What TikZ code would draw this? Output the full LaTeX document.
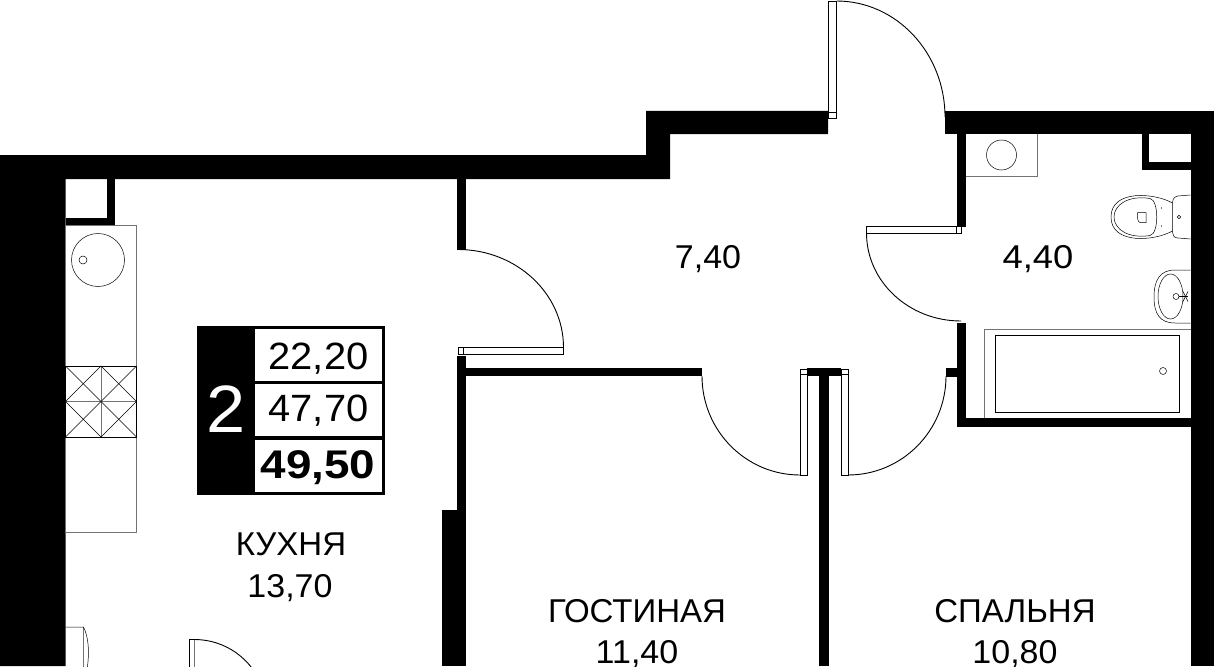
\documentclass[tikz,border=0pt]{standalone}
\usepackage{fontspec}
\setmainfont{Liberation Sans}
\tikzset{
  wall/.style={fill=black},
  leaf/.style={draw=black,fill=white,line width=0.9pt},
  swing/.style={draw=black,line width=0.9pt},
  fixture/.style={draw=black,line width=0.5pt},
  counter/.style={draw=black!55,line width=0.8pt},
  roomlabel/.style={inner sep=0pt,font=\fontsize{33}{36}\selectfont},
  roomarea/.style={roomlabel,transform shape,xscale=1.03},
  arealabel/.style={inner sep=0pt,transform shape,xscale=1.05,font=\fontsize{38}{40}\selectfont}
}
\begin{document}
\begin{tikzpicture}[x=1pt,y=-1pt]
      \useasboundingbox (0,0) rectangle (1214,666);
      \clip (0,0) rectangle (1214,666);
      \fill[white] (0,0) rectangle (1214,666);
      % outer walls
      \fill[wall] (0,155) -- (646,155) -- (646,111) -- (828,111) -- (828,134) -- (670,134) -- (670,179) -- (65.5,179) -- (65.5,666) -- (0,666) -- cycle;
      \fill[wall] (945,111) rectangle (1214,134);
      \fill[wall] (1190.5,111) rectangle (1214,666);
      % inner walls
      \fill[wall] (107,179) rectangle (115,226);
      \fill[wall] (65.5,218) rectangle (115,226);
      \fill[wall] (456.5,179) rectangle (466,250);
      \fill[wall] (456.5,356) rectangle (466,666);
      \fill[wall] (441.5,510) rectangle (466,666);
      \fill[wall] (456.5,368) rectangle (702,376);
      \fill[wall] (819,368) rectangle (829,666);
      \fill[wall] (807,368) rectangle (841,376);
      \fill[wall] (957,134) rectangle (966,226.5);
      \fill[wall] (957,322.5) rectangle (966,427);
      \fill[wall] (946,368) rectangle (957,376.5);
      \fill[wall] (957,418) rectangle (1191,427);
      \fill[wall] (1142,134) rectangle (1149,170);
      \fill[wall] (1142,162) rectangle (1191,170);
      % doors
      \draw[leaf] (828.5,1) rectangle (836.5,118);
      \draw[leaf] (828.5,112) rectangle (836.5,118);
      \draw[swing] (836.5,1) arc[start angle=-90,end angle=0,x radius=108.5,y radius=116];
      \draw[leaf] (866.5,226.5) rectangle (961,233);
      \draw[leaf] (956.5,226.5) rectangle (961,233);
      \draw[swing] (866.5,233) arc[start angle=180,end angle=90,x radius=94.5,y radius=88];
      \draw[leaf] (458,347.5) rectangle (563.5,354.5);
      \draw[leaf] (458,347.5) rectangle (463,354.5);
      \draw[swing] (563.5,347.5) arc[start angle=0,end angle=-90,x radius=105.5,y radius=98];
      \draw[leaf] (800,369.5) rectangle (807.5,475);
      \draw[leaf] (800,369.5) rectangle (807.5,374.5);
      \draw[swing] (702,376) arc[start angle=180,end angle=90,x radius=98,y radius=99];
      \draw[leaf] (841,369.5) rectangle (848,475);
      \draw[leaf] (841,369.5) rectangle (848,374.5);
      \draw[swing] (848,475) arc[start angle=90,end angle=0,x radius=98,y radius=99];
      \draw[swing] (194.5,639.5) -- (189.5,639.5) -- (189.5,680);
      \draw[counter] (194.5,639.5) -- (194.5,680);
      \draw[swing] (194.5,639.5) arc[start angle=-90,end angle=-20,x radius=72,y radius=72];
      % kitchen
      \draw[counter] (65.5,225) rectangle (136.5,532);
      \draw[fixture] (98,260) circle[radius=26.5];
      \draw[fixture] (83,260) circle[radius=4];
      \draw[counter] (101,366) -- (101,437);
      \draw[counter] (65.5,401.5) -- (136.5,401.5);
      \draw[fixture] (65.5,366) rectangle (136.5,437);
      \draw[fixture] (65.5,366) -- (136.5,437);
      \draw[fixture] (136.5,366) -- (65.5,437);
      \draw[fixture] (101,366) -- (65.5,401.5) -- (101,437) -- (136.5,401.5) -- cycle;
      \draw[counter] (83.5,627) -- (83.5,670);
      \draw[fixture] (65.5,627) -- (83.5,627) .. controls (88,636) and (90,650) .. (87,670);
      % bathroom
      \draw[counter] (966,176) -- (1037,176) -- (1037,134);
      \draw[fixture] (1001.5,155) circle[radius=15];
      \draw[fixture] (1172.5,203) .. controls (1155,193) and (1111,189) .. (1111,217) .. controls (1111,245) and (1155,241) .. (1172.5,231);
      \draw[fixture] (1150,198.5) .. controls (1128,195) and (1114,205) .. (1114,217) .. controls (1114,229) and (1128,239) .. (1150,235.5) .. controls (1159,234) and (1159,200) .. (1150,198.5);
      \draw[fixture] (1190.5,195) -- (1178,196) .. controls (1173,197) and (1172.5,200) .. (1172.5,205) -- (1172.5,229) .. controls (1172.5,236) and (1174,238) .. (1178,238) -- (1190.5,239);
      \draw[fixture] (1179,217) circle[radius=1.7];
      \fill (1161.5,208) circle[radius=0.7];
      \fill (1161.5,226) circle[radius=0.7];
      \draw[fixture] (1137.5,212.5) -- (1146,212.5) -- (1146,222.5) -- (1140,222.5) .. controls (1138,222) and (1137,219) .. (1137.5,212.5);
      \draw[fixture] (1190.5,270) -- (1175,270) .. controls (1160,270) and (1154,280) .. (1154,297) .. controls (1154,314) and (1160,323) .. (1175,323) -- (1190.5,323);
      \draw[fixture] (1170.5,296.5) ellipse[x radius=12.5,y radius=22.5];
      \draw[fixture] (1176,296.5) circle[radius=3];
      \draw[fixture] (1179,296.5) -- (1188,296.5);
      \draw[fixture] (1183,291.5) -- (1188,301.5);
      \draw[fixture] (1188,291.5) -- (1183,301.5);
      \draw[counter] (984,418) -- (984,329) -- (1190.5,329);
      \draw[fixture] (995,335) rectangle (1179,412);
      \draw[fixture] (1163,371) circle[radius=3.5];
      % area table
      \fill[black] (196.5,325.5) rectangle (385,494.5);
      \fill[white] (254.5,328.5) rectangle (382,380.5);
      \fill[white] (254.5,384) rectangle (382,436);
      \fill[white] (254.5,439.5) rectangle (382,492);
      \node[inner sep=0pt,transform shape,xscale=1.05,text=white,font=\fontsize{67}{70}\selectfont] (rooms) at (226,409.5) {2};
      \node[arealabel] (living) at (318.5,359) {22,20};
      \node[arealabel] (total) at (318.5,411) {47,70};
      \node[arealabel,xscale=1.09,font=\fontsize{40}{42}\selectfont\bfseries] (full) at (318,468) {49,50};
      % room labels
      \node[roomlabel] (kitchen) at (291,544) {КУХНЯ};
      \node[roomarea] (kitchenarea) at (290,588) {13,70};
      \node[roomarea] (hall) at (708,259) {7,40};
      \node[roomarea,xscale=1.07] (bath) at (1038,259) {4,40};
      \node[roomlabel] (lounge) at (637,611) {ГОСТИНАЯ};
      \node[roomarea] (loungearea) at (637,654) {11,40};
      \node[roomlabel] (bedroom) at (1015,611) {СПАЛЬНЯ};
      \node[roomarea] (bedroomarea) at (1015,654) {10,80};
\end{tikzpicture}
\end{document}
